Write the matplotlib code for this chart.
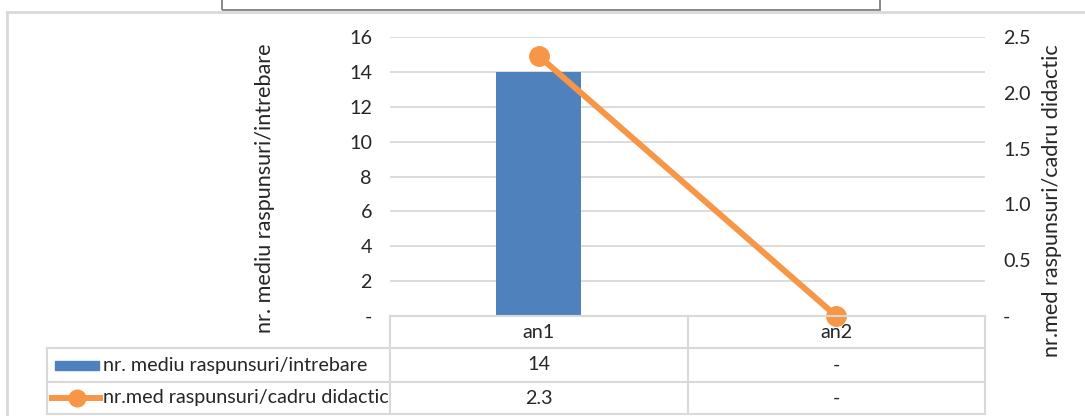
import matplotlib
matplotlib.use("Agg")
import matplotlib.pyplot as plt
from matplotlib.lines import Line2D
from matplotlib.patches import Rectangle

categories = ["an1", "an2"]
bar_values = [14, 0]
line_values = [2.33, 0]
bar_label = "nr. mediu raspunsuri/intrebare"
line_label = "nr.med raspunsuri/cadru didactic"
bar_table = ["14", "-"]
line_table = ["2.3", "-"]
left_ticks = [0, 2, 4, 6, 8, 10, 12, 14, 16]
left_ticklabels = ["-", "2", "4", "6", "8", "10", "12", "14", "16"]
right_ticks = [0, 0.5, 1.0, 1.5, 2.0, 2.5]
right_ticklabels = ["-", "0.5", "1.0", "1.5", "2.0", "2.5"]

BLUE = "#4F81BD"
ORANGE = "#F79646"
GRID = "#D9D9D9"
TXT = "#262626"
FONT = ["Lato", "DejaVu Sans"]
FS = 14.2
FS_TITLE = 15.6

W, H = 1085, 416
plt.rcParams['font.family'] = FONT
fig = plt.figure(figsize=(W / 100, H / 100), dpi=100)


def fx(x):
    return x / W


def fy(y):
    return 1 - y / H


def hline(x0, x1, y, color=GRID, lw=1.5):
    fig.add_artist(Line2D([fx(x0), fx(x1)], [fy(y), fy(y)], color=color, lw=lw,
                          transform=fig.transFigure))


def vline(x, y0, y1, color=GRID, lw=1.5):
    fig.add_artist(Line2D([fx(x), fx(x)], [fy(y0), fy(y1)], color=color, lw=lw,
                          transform=fig.transFigure))


# chart frame
hline(7, W, 12, lw=2)
vline(7, 12, H, lw=2)
# partial title box at top
fig.add_artist(Rectangle((fx(222), fy(10)), fx(880) - fx(222), fy(-5) - fy(10),
                         fill=False, edgecolor="#7F7F7F", lw=1.3,
                         transform=fig.transFigure))

# plot area
L, R, T, B = 390, 985, 37, 316
ax = fig.add_axes([fx(L), fy(B), fx(R) - fx(L), fy(T) - fy(B)])
ax2 = ax.twinx()
x = list(range(len(categories)))
ax.set_xlim(-0.5, len(categories) - 0.5)
ax.set_ylim(0, 16)
ax2.set_ylim(0, 2.5)
ax.set_yticks(left_ticks)
ax.set_yticklabels(left_ticklabels, fontsize=FS, color=TXT)
ax2.set_yticks(right_ticks)
ax2.set_yticklabels(right_ticklabels, fontsize=FS, color=TXT)
ax.set_xticks([])
for a in (ax, ax2):
    for s in a.spines.values():
        s.set_visible(False)
    a.tick_params(axis="y", length=0)
ax.tick_params(axis="y", pad=13)
ax2.tick_params(axis="y", pad=13)
ax.grid(axis="y", color=GRID, lw=1.3)
ax.set_axisbelow(True)

ax.bar(x, bar_values, width=0.285, color=BLUE, zorder=2)
ax2.plot(x, line_values, color=ORANGE, lw=4.3, marker="o", markersize=14,
         solid_capstyle="butt", zorder=3, clip_on=False)

# axis titles
fig.text(fx(265), fy(188), bar_label, rotation=90, ha="center", va="center",
         fontsize=FS_TITLE, color=TXT)
fig.text(fx(1052), fy(201), line_label, rotation=90, ha="center", va="center",
         fontsize=FS_TITLE, color=TXT)

# data table
colw = (R - L) / len(categories)
rows_y = [316, 348, 382, 414]
hline(L, R, rows_y[0])
for yy in rows_y[1:]:
    hline(47, R, yy)
vline(47, rows_y[1], rows_y[3])
for i in range(len(categories) + 1):
    vline(L + i * colw, rows_y[0], rows_y[3])

for i, c in enumerate(categories):
    cx = L + (i + 0.5) * colw
    fig.text(fx(cx), fy((rows_y[0] + rows_y[1]) / 2), c, ha="center", va="center",
             fontsize=FS, color=TXT)
    fig.text(fx(cx), fy((rows_y[1] + rows_y[2]) / 2), bar_table[i], ha="center",
             va="center", fontsize=FS, color=TXT)
    fig.text(fx(cx), fy((rows_y[2] + rows_y[3]) / 2), line_table[i], ha="center",
             va="center", fontsize=FS, color=TXT)

# legend keys
y1 = (rows_y[1] + rows_y[2]) / 2
y2 = (rows_y[2] + rows_y[3]) / 2
fig.add_artist(Rectangle((fx(55), fy(y1 + 4.5)), fx(99) - fx(55), fy(y1 - 4.5) - fy(y1 + 4.5),
                         color=BLUE, transform=fig.transFigure))
fig.add_artist(Line2D([fx(52), fx(100)], [fy(y2), fy(y2)], color=ORANGE, lw=4.3,
                      transform=fig.transFigure))
fig.add_artist(Line2D([fx(77)], [fy(y2)], color=ORANGE, marker="o", markersize=12,
                      lw=0, transform=fig.transFigure))
fig.text(fx(103), fy(y1), bar_label, ha="left", va="center", fontsize=FS, color=TXT)
fig.text(fx(103), fy(y2), line_label, ha="left", va="center", fontsize=FS, color=TXT)

fig.savefig("out.png", dpi=100)
